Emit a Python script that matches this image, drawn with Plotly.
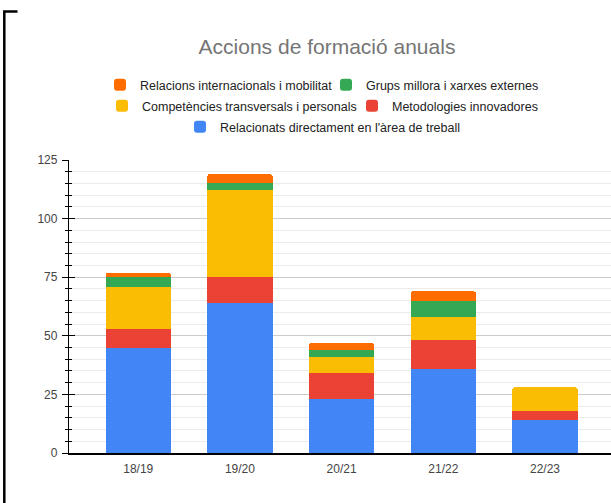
import plotly.graph_objects as go

# Training actions per academic year, stacked by category
years = ["18/19", "19/20", "20/21", "21/22", "22/23"]

relacionats = [45, 64, 23, 36, 14]
metodologies = [8, 11, 11, 12, 4]
competencies = [18, 37, 7, 10, 10]
grups_millora = [4, 3, 3, 7, 0]
relacions_int = [2, 4, 3, 4, 0]

y_ticks = [0, 25, 50, 75, 100, 125]

FONT = "Arial, Liberation Sans, sans-serif"

series = [
    ("Relacionats directament en l'àrea de treball", relacionats, "#4285F4", "legend3"),
    ("Metodologies innovadores", metodologies, "#EA4335", "legend2"),
    ("Competències transversals i personals", competencies, "#FBBC04", "legend2"),
    ("Grups millora i xarxes externes", grups_millora, "#34A853", "legend"),
    ("Relacions internacionals i mobilitat", relacions_int, "#FF6D01", "legend"),
]

fig = go.Figure()
for name, vals, color, leg in series:
    fig.add_trace(go.Bar(
        x=years, y=vals, name=name, legend=leg,
        marker=dict(color=color, line=dict(width=0)),
        hoverinfo="x+y+name",
    ))

# empty helper trace so the overlaid tick axis is always drawn
fig.add_trace(go.Scatter(x=[], y=[], yaxis="y2", showlegend=False, hoverinfo="skip"))

legend_common = dict(
    orientation="h", xref="container", yref="container",
    xanchor="left", yanchor="middle",
    bgcolor="rgba(0,0,0,0)", traceorder="reversed",
    font=dict(family=FONT, size=12.5, color="#222222"),
    itemwidth=30, entrywidthmode="pixels",
)

fig.update_layout(
    width=611, height=503,
    margin=dict(l=69, r=0, t=160, b=50),
    paper_bgcolor="white", plot_bgcolor="white",
    barmode="stack", bargap=0.357, barcornerradius=3,
    title=dict(
        text="Accions de formació anuals",
        xref="container", yref="container",
        x=327 / 611, y=1 - 47 / 503, xanchor="center", yanchor="middle",
        font=dict(family=FONT, size=21, color="#757575"),
    ),
    legend=dict(legend_common, x=100 / 611, y=1 - 85 / 503, entrywidth=181),
    legend2=dict(legend_common, x=102 / 611, y=1 - 106 / 503, entrywidth=205),
    legend3=dict(legend_common, x=180 / 611, y=1 - 127 / 503, entrywidth=250),
    xaxis=dict(
        type="category", range=[-0.681, 4.649],
        showline=True, linecolor="black", linewidth=1.5,
        showgrid=False, ticks="", zeroline=False,
        tickfont=dict(family=FONT, size=12, color="#444444"),
        ticklabelstandoff=4,
    ),
    yaxis=dict(
        range=[0, 125], tickvals=y_ticks,
        showline=True, linecolor="black", linewidth=1.3,
        ticks="outside", ticklen=6, tickwidth=1.3, tickcolor="black",
        showgrid=True, gridcolor="#cccccc", gridwidth=1,
        zeroline=False,
        minor=dict(dtick=5, ticks="outside", ticklen=3, tickwidth=1.3,
                   tickcolor="black", showgrid=True, gridcolor="#ebebeb", gridwidth=1),
        tickfont=dict(family=FONT, size=12, color="#444444"),
        ticklabelstandoff=2,
    ),
    yaxis2=dict(
        overlaying="y", side="left", anchor="x",
        range=[0, 125], tickvals=y_ticks,
        showline=False, showgrid=False, zeroline=False, showticklabels=False,
        ticks="inside", ticklen=6, tickwidth=1.3, tickcolor="black",
        minor=dict(dtick=5, ticks="inside", ticklen=3, tickwidth=1.3, tickcolor="black"),
    ),
    shapes=[
        dict(
            type="path", xref="paper", yref="paper",
            xsizemode="pixel", ysizemode="pixel", xanchor=0, yanchor=1,
            path="M-51.5,148.5 L-64.7,148.5 L-64.7,-350",
            line=dict(color="black", width=2.5),
        )
    ],
)

fig.write_html("out.html")
